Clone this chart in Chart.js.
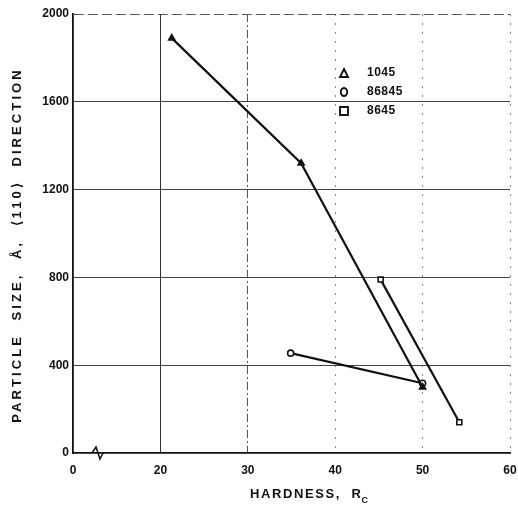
<!DOCTYPE html>
<html>
<head>
<meta charset="utf-8">
<script src="https://cdn.jsdelivr.net/npm/chart.js@4/dist/chart.umd.min.js"></script>
<style>
  html, body { margin: 0; padding: 0; background: #fff; overflow: hidden; }
  #wrap { width: 518px; height: 509px; }
</style>
</head>
<body>
<div id="wrap"><canvas id="chart"></canvas></div>
<script>
// values
var steels = ['1045', '86845', '8645'];
var hardness1045 = [21.3, 36.1, 50];
var size1045 = [1890, 1320, 300];
var hardness86845 = [34.9, 50];
var size86845 = [455, 318];
var hardness8645 = [45.2, 54.2];
var size8645 = [790, 140];
var xTicks = [10, 20, 30, 40, 50, 60]; // first tick stands for 0 (broken axis)
var yTicks = [0, 400, 800, 1200, 1600, 2000];

var ink = '#111';
var FONT = '"Liberation Sans", Arial, sans-serif';

function pts(xs, ys) {
  return xs.map(function (x, i) { return { x: x, y: ys[i] }; });
}

// axis titles, legend and the axis break are drawn by hand
var extras = {
  id: 'extras',
  afterDraw: function (chart) {
    var ctx = chart.ctx;
    var a = chart.chartArea;
    ctx.save();
    ctx.fillStyle = ink;
    ctx.strokeStyle = ink;

    // y title
    ctx.save();
    ctx.translate(17, 245);
    ctx.rotate(-Math.PI / 2);
    ctx.font = 'bold 13px ' + FONT;
    ctx.letterSpacing = '3.1px';
    ctx.textAlign = 'center';
    ctx.textBaseline = 'middle';
    ctx.fillText('PARTICLE  SIZE,  Å,  \u27E8110\u27E9  DIRECTION', 0, 0);
    ctx.restore();

    // x title with subscript
    ctx.font = 'bold 13px ' + FONT;
    ctx.letterSpacing = '1.6px';
    ctx.textBaseline = 'alphabetic';
    ctx.textAlign = 'left';
    var main = 'HARDNESS,  R';
    var w = ctx.measureText(main).width;
    var x0 = 250;
    ctx.fillText(main, x0, 498);
    ctx.font = 'bold 9px ' + FONT;
    ctx.fillText('C', x0 + w - 1, 503);

    // legend
    ctx.letterSpacing = '0.5px';
    ctx.font = 'bold 12px ' + FONT;
    ctx.textBaseline = 'middle';
    ctx.textAlign = 'left';
    ctx.lineWidth = 1.9;
    var lx = a.left + 271, ly = a.top + 59;
    steels.forEach(function (s, i) {
      var y = ly + i * 19;
      ctx.beginPath();
      if (i === 0) {
        ctx.moveTo(lx, y - 4); ctx.lineTo(lx + 4, y + 4); ctx.lineTo(lx - 4, y + 4); ctx.closePath();
      } else if (i === 1) {
        ctx.ellipse(lx, y, 3.2, 4, 0, 0, Math.PI * 2);
      } else {
        ctx.rect(lx - 4, y - 4, 8, 8);
      }
      ctx.stroke();
      ctx.fillText(s, lx + 23, y);
    });

    // zigzag break on x axis
    var bx = a.left + 25, by = a.bottom;
    ctx.lineWidth = 1.5;
    ctx.beginPath();
    ctx.moveTo(bx - 6, by);
    ctx.lineTo(bx - 2, by - 6);
    ctx.lineTo(bx + 2, by + 6);
    ctx.lineTo(bx + 5, by);
    ctx.stroke();
    ctx.restore();
  }
};

function gridColor(ctx) {
  var v = ctx.tick ? ctx.tick.value : null;
  if (ctx.scale.axis === 'x') {
    if (v === 10) return 'rgba(0,0,0,0)';
    if (v === 20) return '#333';
    if (v === 30) return '#555';
    return '#888';
  }
  if (v === 0) return 'rgba(0,0,0,0)';
  if (v === 2000) return '#555';
  return '#444';
}

function gridDash(ctx) {
  var v = ctx.tick ? ctx.tick.value : null;
  if (ctx.scale.axis === 'x') {
    if (v === 20) return [];
    if (v === 30) return [8, 3, 2, 3];
    return [2, 7];
  }
  if (v === 2000) return [10, 4];
  return [];
}

var config = {
  type: 'line',
  data: {
    datasets: [
      { label: steels[0], data: pts(hardness1045, size1045), pointStyle: 'triangle', pointRadius: 3.5, pointBackgroundColor: ink },
      { label: steels[1], data: pts(hardness86845, size86845), pointStyle: 'circle', pointRadius: 3, pointBackgroundColor: '#fff' },
      { label: steels[2], data: pts(hardness8645, size8645), pointStyle: 'rect', pointRadius: 3.5, pointBackgroundColor: '#fff' }
    ].map(function (d) {
      d.borderColor = ink;
      d.borderWidth = 2.2;
      d.pointBorderColor = ink;
      d.pointBorderWidth = 1.6;
      d.tension = 0;
      return d;
    })
  },
  options: {
    responsive: true,
    maintainAspectRatio: false,
    animation: false,
    layout: { padding: { left: 0, right: 8, top: 14, bottom: 0 } },
    plugins: { legend: { display: false }, tooltip: { enabled: false } },
    scales: {
      x: {
        type: 'linear',
        min: 10,
        max: 60,
        afterBuildTicks: function (scale) { scale.ticks = xTicks.map(function (v) { return { value: v }; }); },
        afterFit: function (scale) {
          scale.height = 56;
          scale.paddingLeft = 0;
          scale.paddingRight = 0;
        },
        ticks: {
          color: ink,
          padding: 10,
          maxRotation: 0,
          font: { family: FONT, size: 12, weight: 'bold' },
          callback: function (v) { return v === 10 ? '0' : String(v); }
        },
        grid: { color: gridColor, lineWidth: 1, drawTicks: false },
        border: { display: true, color: ink, width: 1.8, dash: gridDash }
      },
      y: {
        type: 'linear',
        min: 0,
        max: 2000,
        afterBuildTicks: function (scale) { scale.ticks = yTicks.map(function (v) { return { value: v }; }); },
        afterFit: function (scale) {
          scale.width = 73;
          scale.paddingTop = 0;
          scale.paddingBottom = 0;
        },
        ticks: {
          color: ink,
          padding: 4,
          font: { family: FONT, size: 12, weight: 'bold' },
          callback: function (v) { return String(v); }
        },
        grid: { color: gridColor, lineWidth: 1, drawTicks: false },
        border: { display: true, color: ink, width: 1.8, dash: gridDash }
      }
    }
  },
  plugins: [extras]
};

new Chart(document.getElementById('chart'), config);
</script>
</body>
</html>
